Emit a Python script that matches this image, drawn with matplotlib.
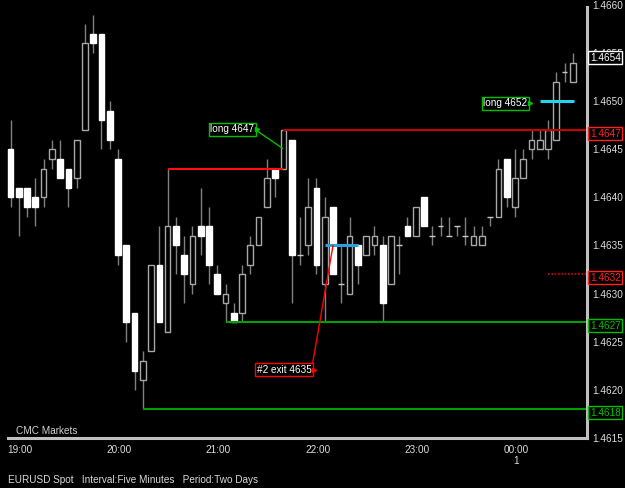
import matplotlib.pyplot as plt
from matplotlib import transforms

plt.rcParams['font.family'] = ['Liberation Sans', 'DejaVu Sans']

# EURUSD 5 minute bars (open, high, low, close)
opens = [1.4645, 1.4641, 1.4641, 1.4640, 1.4640, 1.4644, 1.4644, 1.4643, 1.4642, 1.4647,
         1.4657, 1.4657, 1.4649, 1.4644, 1.4635, 1.4628, 1.4621, 1.4624, 1.4633, 1.4626,
         1.4637, 1.4634, 1.4631, 1.4637, 1.4637, 1.4632, 1.4629, 1.4628, 1.4628, 1.4633,
         1.4635, 1.4639, 1.4643, 1.4643, 1.4646, 1.4634, 1.4635, 1.4641, 1.4631, 1.4639,
         1.4631, 1.4630, 1.4635, 1.4634, 1.4635, 1.4635, 1.4631, 1.4635, 1.4637, 1.4636,
         1.4640, 1.4636, 1.4637, 1.4636, 1.4637, 1.4636, 1.4635, 1.4635, 1.4638, 1.4638,
         1.4644, 1.4639, 1.4642, 1.4645, 1.4645, 1.4645, 1.4646, 1.4653, 1.4652]
highs = [1.4648, 1.4641, 1.4641, 1.4642, 1.4644, 1.4646, 1.4646, 1.4643, 1.4646, 1.4658,
         1.4659, 1.4657, 1.4650, 1.4645, 1.4635, 1.4628, 1.4624, 1.4633, 1.4637, 1.4643,
         1.4638, 1.4636, 1.4637, 1.4641, 1.4639, 1.4633, 1.4631, 1.4629, 1.4633, 1.4636,
         1.4638, 1.4644, 1.4643, 1.4647, 1.4646, 1.4638, 1.4642, 1.4642, 1.4640, 1.4639,
         1.4635, 1.4638, 1.4635, 1.4636, 1.4637, 1.4636, 1.4636, 1.4636, 1.4638, 1.4639,
         1.4640, 1.4637, 1.4638, 1.4638, 1.4637, 1.4638, 1.4637, 1.4637, 1.4638, 1.4644,
         1.4644, 1.4645, 1.4645, 1.4647, 1.4647, 1.4648, 1.4653, 1.4654, 1.4655]
lows = [1.4639, 1.4636, 1.4638, 1.4637, 1.4639, 1.4643, 1.4642, 1.4639, 1.4641, 1.4647,
        1.4655, 1.4645, 1.4645, 1.4633, 1.4625, 1.4620, 1.4618, 1.4624, 1.4627, 1.4626,
        1.4632, 1.4629, 1.4630, 1.4634, 1.4631, 1.4630, 1.4627, 1.4627, 1.4627, 1.4632,
        1.4635, 1.4639, 1.4640, 1.4643, 1.4629, 1.4633, 1.4634, 1.4632, 1.4627, 1.4632,
        1.4629, 1.4630, 1.4631, 1.4634, 1.4634, 1.4627, 1.4631, 1.4632, 1.4636, 1.4636,
        1.4637, 1.4635, 1.4636, 1.4636, 1.4636, 1.4635, 1.4635, 1.4635, 1.4637, 1.4638,
        1.4639, 1.4638, 1.4642, 1.4644, 1.4645, 1.4644, 1.4646, 1.4652, 1.4652]
closes = [1.4640, 1.4640, 1.4639, 1.4639, 1.4643, 1.4645, 1.4642, 1.4641, 1.4646, 1.4656,
          1.4656, 1.4648, 1.4646, 1.4634, 1.4627, 1.4622, 1.4623, 1.4633, 1.4627, 1.4637,
          1.4635, 1.4632, 1.4636, 1.4636, 1.4633, 1.4630, 1.4630, 1.4627, 1.4632, 1.4635,
          1.4638, 1.4642, 1.4642, 1.4647, 1.4634, 1.4634, 1.4639, 1.4633, 1.4638, 1.4632,
          1.4631, 1.4636, 1.4633, 1.4636, 1.4636, 1.4629, 1.4636, 1.4635, 1.4636, 1.4639,
          1.4637, 1.4636, 1.4637, 1.4636, 1.4637, 1.4636, 1.4636, 1.4636, 1.4638, 1.4643,
          1.4640, 1.4642, 1.4644, 1.4646, 1.4646, 1.4647, 1.4652, 1.4653, 1.4654]

hour_labels = ['19:00', '20:00', '21:00', '22:00', '23:00', '00:00\n1']
hour_pos = [1.15, 13.15, 25.15, 37.15, 49.15, 61.15]
price_ticks = [1.4615, 1.4620, 1.4625, 1.4630, 1.4635, 1.4640, 1.4645, 1.4650, 1.4655, 1.4660]

# price tags on the right axis
tag_pos = [1.46549, 1.4647, 1.4632, 1.4627, 1.4618]
tag_text = ['1.4654', '1.4647', '1.4632', '1.4627', '1.4618']
tag_color = ['white', '#ff2020', '#ff2020', '#00c000', '#00c000']

fs = 7.2
px = 8.27          # pixels per bar
ppu = 96200.0      # pixels per price unit
xmin, xmax = -10.5 / px, (587 - 10.5) / px
ymin, ymax = 1.4660 - 433 / ppu, 1.4660 + 5 / ppu

fig = plt.figure(figsize=(6.25, 4.88), dpi=100, facecolor='black')
ax = fig.add_axes([0, 1 - 438 / 488, 587 / 625, 438 / 488])
ax.set_facecolor('black')
ax.set_xlim(xmin, xmax)
ax.set_ylim(ymin, ymax)
for s in ax.spines.values():
    s.set_visible(False)

# candles
bw = 0.69
for i in range(len(opens)):
    o, h, l, c = opens[i], highs[i], lows[i], closes[i]
    if h > l:
        ax.vlines(i, l, h, color='#808080', lw=1, zorder=2)
    if c > o:
        ax.add_patch(plt.Rectangle((i - bw / 2, o), bw, c - o, fc='black', ec='#a8a8a8', lw=1, zorder=3))
    elif c < o:
        ax.add_patch(plt.Rectangle((i - bw / 2, c), bw, o - c, fc='white', ec='white', lw=1, zorder=3))
    else:
        ax.hlines(o, i - bw / 2, i + bw / 2, color='#c8c8c8', lw=1, zorder=3)

# levels
ax.hlines(1.4643, 19, 33, color='#ff1010', lw=1.5, zorder=4)
ax.hlines(1.4647, 33, xmax, color='#c80000', lw=1.5, zorder=4)
ax.hlines(1.4627, 26, xmax, color='#00a000', lw=1.5, zorder=4)
ax.hlines(1.4618, 16, xmax, color='#00a000', lw=1.5, zorder=4)
ax.hlines(1.4632, 65.0, xmax, color='#e00000', lw=1.2, linestyles=(0, (1, 1)), zorder=4)
ax.hlines(1.4635, 38, 42, color='#2aa0dc', lw=2.2, zorder=5)
ax.hlines(1.4650, 64, 68.1, color='#22d4f0', lw=2.2, zorder=5)

# trade labels
def trade_label(txt, x, y, col, target=None):
    ap = None
    if target is not None:
        ap = dict(arrowstyle='-', color=col, lw=1, relpos=(1, 0.5), shrinkA=0, shrinkB=0)
    ax.annotate(txt, xy=target if target else (x, y), xytext=(x, y), ha='right', va='center',
                color='white', fontsize=fs, zorder=6,
                bbox=dict(boxstyle='square,pad=0.15', fc='black', ec=col, lw=1),
                arrowprops=ap)
    ax.plot(x + 0.35, y, marker='>', color=col, ms=3, zorder=7)

trade_label('long 4647', 29.5, 1.46471, '#00c000', (32.9, 1.46451))
trade_label('long 4652', 62.5, 1.46498, '#00c000')
trade_label('#2 exit 4635', 36.4, 1.46221, '#ff0000', (39.0, 1.4635))

# axis frame lines
ax.plot([-0.3, xmax], [ymin, ymin], color='#c0c0c0', lw=2.2, clip_on=False, zorder=8)
ax.plot([xmax, xmax], [1.4660 - 2 / ppu, ymin], color='#c0c0c0', lw=2.2, clip_on=False, zorder=8)

ax.yaxis.tick_right()
ax.set_yticks(price_ticks)
ax.set_yticklabels(['%.4f' % v for v in price_ticks])
ax.tick_params(axis='y', length=0, pad=3.6, labelcolor='#dcdcdc', labelsize=fs)
ax.set_xticks(hour_pos)
ax.set_xticklabels(hour_labels)
ax.tick_params(axis='x', length=0, pad=5.3, labelcolor='#dcdcdc', labelsize=fs)
for t in ax.get_xticklabels():
    t.set_linespacing(1.05)

tr = transforms.blended_transform_factory(ax.transAxes, ax.transData)
for v, t, col in zip(tag_pos, tag_text, tag_color):
    ax.text(590 / 587, v - 3.5 / ppu, t, transform=tr, ha='left', va='center', color=col,
            fontsize=fs, zorder=9,
            bbox=dict(boxstyle='square,pad=0.15', fc='black', ec=col, lw=1))

fig.text(16 / 625, 1 - 431 / 488, 'CMC Markets', color='#d0d0d0', fontsize=fs, va='center')
fig.text(8 / 625, 1 - 480 / 488, 'EURUSD Spot   Interval:Five Minutes   Period:Two Days',
         color='#d8d8d8', fontsize=fs, va='center')

fig.savefig('out.png', dpi=100, facecolor='black')
